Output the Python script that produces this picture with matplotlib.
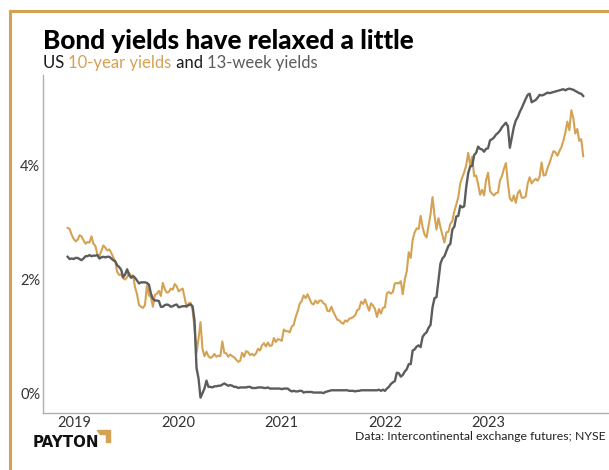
import matplotlib
matplotlib.use("Agg")
import matplotlib.pyplot as plt
from matplotlib.patches import Polygon
from matplotlib.lines import Line2D
import pandas as pd

GOLD = "#d5a253"
GREY = "#5c5c5c"
INK = "#1a1a1a"

# weekly (Friday) closes, %, Dec 2018 - Dec 2023
ten_2018 = [2.91, 2.89, 2.79, 2.72]
ten_2019 = [2.67, 2.70, 2.78, 2.76,
            2.69, 2.63, 2.66, 2.65,
            2.76, 2.63, 2.59, 2.44, 2.41,
            2.50, 2.60, 2.56, 2.51,
            2.53, 2.47, 2.39, 2.32, 2.13,
            2.08, 2.09, 2.02, 2.00,
            2.04, 2.12, 2.06, 2.07,
            1.86, 1.74, 1.55, 1.52, 1.50,
            1.55, 1.90, 1.72, 1.69,
            1.52, 1.73, 1.75, 1.80,
            1.71, 1.94, 1.83, 1.77, 1.78,
            1.84, 1.82, 1.92, 1.88]
ten_2020 = [1.79, 1.82, 1.84, 1.68, 1.51,
            1.58, 1.59, 1.47, 1.13,
            0.71, 0.96, 1.25, 0.78,
            0.65, 0.73, 0.65, 0.62,
            0.64, 0.69, 0.64, 0.66, 0.65,
            0.91, 0.71, 0.70, 0.64,
            0.68, 0.65, 0.63, 0.59, 0.55,
            0.57, 0.71, 0.64, 0.74,
            0.72, 0.67, 0.69, 0.66,
            0.70, 0.78, 0.75, 0.84, 0.88,
            0.82, 0.89, 0.83, 0.84,
            0.97, 0.90, 0.95, 0.94]
ten_2021 = [0.92, 1.12, 1.09, 1.09, 1.07,
            1.17, 1.20, 1.34, 1.44,
            1.57, 1.62, 1.72, 1.67,
            1.74, 1.66, 1.58, 1.56, 1.63,
            1.58, 1.63, 1.63, 1.58,
            1.56, 1.45, 1.44, 1.52,
            1.43, 1.36, 1.29, 1.28, 1.24,
            1.22, 1.28, 1.26, 1.31,
            1.32, 1.34, 1.37, 1.46,
            1.48, 1.61, 1.57, 1.65, 1.55,
            1.45, 1.58, 1.54, 1.48,
            1.34, 1.48, 1.40, 1.50, 1.51]
ten_2022 = [1.76, 1.78, 1.75, 1.78,
            1.93, 1.94, 1.93, 1.97,
            1.74, 2.00, 2.14, 2.48,
            2.38, 2.70, 2.83, 2.90, 2.89,
            3.12, 2.92, 2.79, 2.74,
            2.94, 3.15, 3.45, 3.13,
            2.88, 3.08, 2.92, 2.78, 2.65,
            2.83, 2.84, 2.98, 3.03,
            3.20, 3.32, 3.45, 3.69, 3.80,
            3.89, 4.01, 4.23, 4.01,
            4.16, 3.82, 3.83, 3.68,
            3.49, 3.58, 3.48, 3.75, 3.88]
ten_2023 = [3.56, 3.51, 3.48, 3.52,
            3.53, 3.74, 3.82, 3.95,
            4.05, 3.70, 3.43, 3.38, 3.48,
            3.35, 3.52, 3.57, 3.44,
            3.44, 3.46, 3.69, 3.80,
            3.69, 3.74, 3.77, 3.74, 3.81,
            4.06, 3.83, 3.84, 3.96,
            4.05, 4.16, 4.26, 4.24,
            4.18, 4.26, 4.33, 4.44, 4.59,
            4.78, 4.63, 4.98, 4.84,
            4.57, 4.65, 4.44, 4.47,
            4.17]

bill_2018 = [2.40, 2.36, 2.37, 2.36]
bill_2019 = [2.38, 2.38, 2.36, 2.34,
             2.37, 2.41, 2.41, 2.43,
             2.41, 2.42, 2.42, 2.43, 2.37,
             2.39, 2.40, 2.39, 2.40,
             2.40, 2.37, 2.34, 2.32, 2.25,
             2.22, 2.17, 2.04, 2.09,
             2.18, 2.08, 2.03, 2.06,
             2.03, 1.98, 1.93, 1.95, 1.95,
             1.95, 1.94, 1.91, 1.75,
             1.66, 1.63, 1.63, 1.62,
             1.52, 1.52, 1.55, 1.56, 1.55,
             1.52, 1.53, 1.55, 1.56]
bill_2020 = [1.51, 1.52, 1.53, 1.53, 1.53,
             1.55, 1.56, 1.53, 1.27,
             0.44, 0.26, -0.08, 0.00,
             0.08, 0.22, 0.11, 0.11,
             0.10, 0.12, 0.12, 0.13, 0.13,
             0.15, 0.17, 0.15, 0.13,
             0.14, 0.13, 0.11, 0.11, 0.09,
             0.10, 0.10, 0.10, 0.10,
             0.11, 0.11, 0.09, 0.09,
             0.09, 0.10, 0.10, 0.10, 0.09,
             0.09, 0.10, 0.08, 0.08,
             0.08, 0.08, 0.08, 0.08]
bill_2021 = [0.07, 0.08, 0.08, 0.08, 0.05,
             0.03, 0.04, 0.03, 0.03,
             0.04, 0.04, 0.01, 0.02,
             0.02, 0.02, 0.02, 0.01, 0.01,
             0.01, 0.01, 0.01, 0.00,
             0.02, 0.03, 0.04, 0.05,
             0.05, 0.05, 0.05, 0.05, 0.05,
             0.05, 0.05, 0.05, 0.04,
             0.04, 0.04, 0.03, 0.04,
             0.04, 0.05, 0.05, 0.05, 0.05,
             0.05, 0.05, 0.05, 0.05,
             0.05, 0.06, 0.04, 0.06, 0.04]
bill_2022 = [0.08, 0.11, 0.16, 0.19,
             0.21, 0.36, 0.35, 0.29,
             0.32, 0.38, 0.42, 0.51,
             0.51, 0.75, 0.77, 0.82, 0.84,
             0.81, 0.99, 1.04, 1.07,
             1.15, 1.20, 1.51, 1.67,
             1.69, 1.99, 2.28, 2.37, 2.41,
             2.50, 2.59, 2.63, 2.88,
             2.93, 3.11, 3.12, 3.30, 3.27,
             3.29, 3.63, 3.87, 3.99,
             4.00, 4.19, 4.23, 4.34,
             4.30, 4.29, 4.25, 4.30, 4.31]
bill_2023 = [4.45, 4.47, 4.50, 4.55,
             4.58, 4.62, 4.68, 4.72,
             4.76, 4.70, 4.32, 4.50, 4.68,
             4.80, 4.86, 4.95, 5.02,
             5.10, 5.18, 5.25, 5.27,
             5.12, 5.14, 5.16, 5.20, 5.25,
             5.24, 5.25, 5.27, 5.29,
             5.28, 5.29, 5.30, 5.31,
             5.32, 5.33, 5.34, 5.35, 5.33,
             5.35, 5.36, 5.35, 5.34,
             5.32, 5.30, 5.28, 5.27,
             5.23]

year_ticks = ["2019", "2020", "2021", "2022", "2023"]
pct_ticks = [0, 2, 4]

weeks = pd.date_range("2018-12-07", "2023-12-01", freq="W-FRI")
ten_year = ten_2018 + ten_2019 + ten_2020 + ten_2021 + ten_2022 + ten_2023
t_bill = bill_2018 + bill_2019 + bill_2020 + bill_2021 + bill_2022 + bill_2023
assert len(ten_year) == len(weeks) == len(t_bill)

W, H = 609, 470
fig = plt.figure(figsize=(W / 100, H / 100), dpi=100)
ax = fig.add_axes([43 / W, 1 - 413 / H, (W - 43) / W, (413 - 75) / H])

ax.plot(weeks, ten_year, color=GOLD, lw=1.5)
ax.plot(weeks, t_bill, color=GREY, lw=1.7)

ax.set_xlim(pd.Timestamp("2018-09-11"), pd.Timestamp("2024-03-01"))
ax.set_ylim(-0.35, 5.6)
ax.set_xticks([pd.Timestamp(y + "-01-01") for y in year_ticks])
ax.set_xticklabels(year_ticks)
ax.set_yticks(pct_ticks)
ax.set_yticklabels([f"{p}%" for p in pct_ticks])
ax.tick_params(length=0, labelsize=10.5, colors="#333333")
ax.tick_params(axis="x", pad=2)
ax.tick_params(axis="y", pad=2)
for s in ["top", "right"]:
    ax.spines[s].set_visible(False)
for s in ["left", "bottom"]:
    ax.spines[s].set_color("#b0b0b0")
    ax.spines[s].set_linewidth(1)
for lab in ax.get_xticklabels() + ax.get_yticklabels():
    lab.set_family("Lato")

# gold frame on top and left
fig.add_artist(Line2D([9.5 / W, 1], [1 - 10.5 / H] * 2, color=GOLD, lw=2.2,
                      transform=fig.transFigure))
fig.add_artist(Line2D([9.5 / W] * 2, [0, 1 - 10.5 / H], color=GOLD, lw=2.2,
                      transform=fig.transFigure))

fig.text(43 / W, 1 - 49 / H, "Bond yields have relaxed a little",
         family="Lato", weight="black", size=18.8, color="black", va="baseline")

# subtitle with coloured series names
renderer = fig.canvas.get_renderer()
x = 43 / W
for part, col in [("US ", INK), ("10-year yields", GOLD), (" and ", INK),
                  ("13-week yields", GREY)]:
    t = fig.text(x, 1 - 68 / H, part, family="Lato", size=12, color=col,
                 va="baseline")
    bb = t.get_window_extent(renderer)
    x += bb.width / W

fig.text(355 / W, 1 - 440 / H,
         "Data: Intercontinental exchange futures; NYSE",
         family="Lato", size=8.8, color="#222222", va="baseline")

fig.text(33 / W, 1 - 447 / H, "PAYTON", family="DejaVu Sans", weight="bold",
         size=10.8, color="#111111", va="baseline")
corner = [(97, 430), (110, 430), (110, 442), (106, 442), (106, 434), (100, 434)]
fig.add_artist(Polygon([(px / W, 1 - py / H) for px, py in corner],
                       closed=True, color=GOLD, transform=fig.transFigure))

fig.savefig("out.png", dpi=100)
